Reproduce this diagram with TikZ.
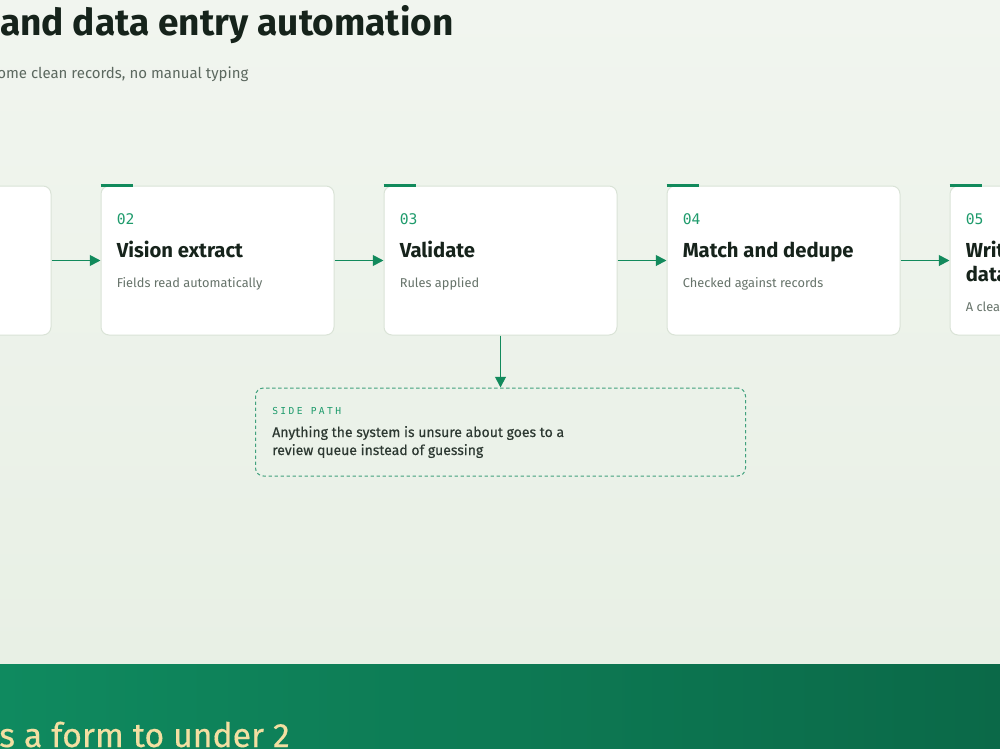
\documentclass[tikz,border=0pt]{standalone}
\usepackage{fontspec}
\usepackage{xcolor}
\usepackage{tikz}
\usetikzlibrary{arrows.meta,positioning}
\setmainfont{Fira Sans}
\newfontfamily\plexmono{DejaVu Sans Mono}
\newfontfamily\spacedmono[LetterSpace=25]{DejaVu Sans Mono}
\newfontfamily\semifont[FakeBold=0.35]{Fira Sans}

\definecolor{pagetop}{HTML}{F1F5EF}
\definecolor{pagebot}{HTML}{E8F0E5}
\definecolor{brand}{HTML}{128A5C}
\definecolor{brandnum}{HTML}{1E9B6C}
\definecolor{inkdark}{HTML}{16231B}
\definecolor{inkgray}{HTML}{66736A}
\definecolor{cardline}{HTML}{DAE3D7}
\definecolor{sidefill}{HTML}{EBF2E9}
\definecolor{bandleft}{HTML}{0F8A5F}
\definecolor{bandright}{HTML}{0B6948}
\definecolor{cream}{HTML}{F3DFA2}

\begin{document}
\begin{tikzpicture}[
    x=0.75pt, y=-0.75pt,
    card/.style={draw=cardline, fill=white, rounded corners=6pt, line width=0.75pt, minimum width=174.75pt, minimum height=111.75pt, inner sep=0pt},
    num/.style={anchor=base west, inner sep=0pt, font=\plexmono\fontsize{11}{12}\selectfont, text=brandnum},
    ttl/.style={anchor=base west, inner sep=0pt, align=left, font=\bfseries\fontsize{15.2}{18}\selectfont, text=inkdark},
    dsc/.style={anchor=base west, inner sep=0pt, font=\fontsize{9.6}{12}\selectfont, text=inkgray},
    accent/.style={draw=brand, line width=2.2pt},
    arr/.style={-{Triangle[length=8pt,width=8pt]}, brand, line width=1.4pt}
]
    \useasboundingbox (0,0) rectangle (1000,749);
    % page background and footer band
    \shade[top color=pagetop, bottom color=pagebot] (0,0) rectangle (1000,664);
    \shade[left color=bandleft, right color=bandright] (0,664) rectangle (1000,749);

    \node[anchor=base west, inner sep=0pt, font=\bfseries\fontsize{27.8}{32}\selectfont, text=inkdark] (heading) at (0,36) {and data entry automation};
    \node[anchor=base west, inner sep=0pt, font=\fontsize{11.25}{14}\selectfont, text=inkgray!90!black] (subhead) at (-3,79) {ome clean records, no manual typing};

    % the five step cards
    \foreach \i/\cx in {1/-65.5, 2/217.5, 3/500.5, 4/783.5, 5/1066.5}{
        \node[card] (card\i) at (\cx,260.5) {};
        \draw[accent] (card\i.north west) -- ++(32,0);
    }
    \foreach \i/\num/\ttl/\dsc in {2/02/Vision extract/Fields read automatically,
                                  3/03/Validate/Rules applied,
                                  4/04/Match and dedupe/Checked against records}{
        \node[num] (num\i) at ([xshift=12pt,yshift=-29.25pt]card\i.north west) {\num};
        \node[ttl] (ttl\i) at ([xshift=12pt,yshift=-54pt]card\i.north west) {\ttl};
        \node[dsc] (dsc\i) at ([xshift=12pt,yshift=-76.5pt]card\i.north west) {\dsc};
    }
    \node[num] (num5) at ([xshift=12pt,yshift=-29.25pt]card5.north west) {05};
    \node[ttl] (ttl5) at ([xshift=12pt,yshift=-54pt]card5.north west) {Writ};
    \node[ttl] (ttl5b) at ([xshift=12pt,yshift=-72pt]card5.north west) {data};
    \node[dsc] (dsc5) at ([xshift=12pt,yshift=-94.5pt]card5.north west) {A clea};

    % side path box
    \node[draw=brand!80, dashed, dash pattern=on 2.5pt off 2pt, fill=sidefill, rounded corners=6pt, line width=0.75pt, minimum width=367.5pt, minimum height=66pt] (side) at (500.5,432) {};
    \node[anchor=base west, inner sep=0pt, font=\spacedmono\fontsize{7.2}{8}\selectfont, text=brandnum] (sidetag) at (272,414) {SIDE PATH};
    \node[anchor=base west, inner sep=0pt, font=\semifont\fontsize{10.5}{13.5}\selectfont, text=inkdark!90] (sidetext) at (272,437) {Anything the system is unsure about goes to a};
    \node[anchor=base west, inner sep=0pt, font=\semifont\fontsize{10.5}{13.5}\selectfont, text=inkdark!90] (sidetext2) at (272,455) {review queue instead of guessing};

    \draw[arr] (card1) -- (card2);
    \draw[arr] (card2) -- (card3);
    \draw[arr] (card3) -- (card4);
    \draw[arr] (card4) -- (card5);
    \draw[arr] (card3.south) -- (side.north);

    \node[anchor=base west, inner sep=0pt, font=\semifont\fontsize{25.3}{28}\selectfont, text=cream] (footline) at (-1,747) {s a form to under 2};
\end{tikzpicture}
\end{document}
